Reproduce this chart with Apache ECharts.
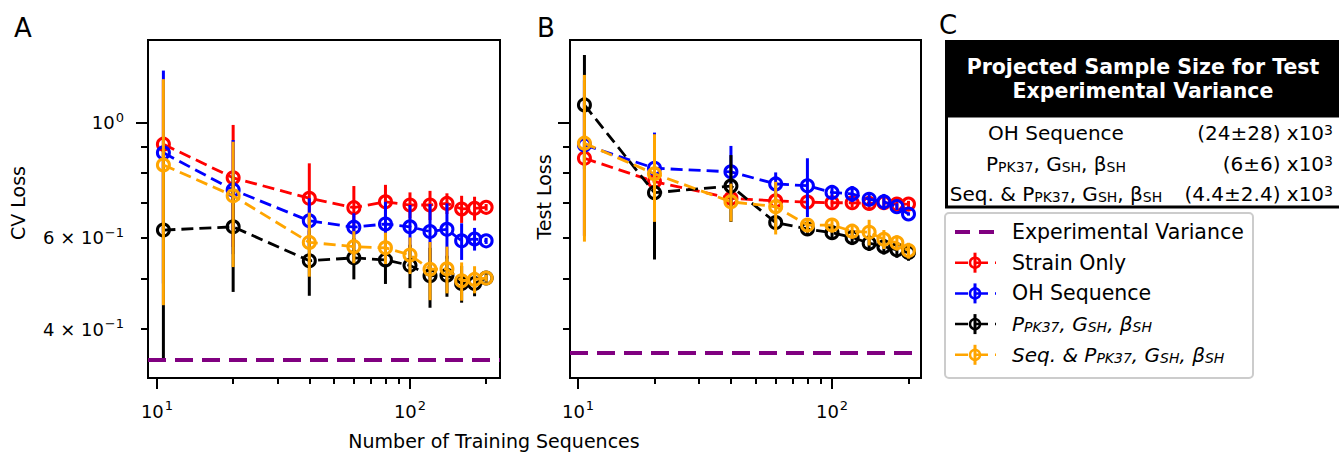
<!DOCTYPE html>
<html><head><meta charset="utf-8">
<script src="https://cdn.jsdelivr.net/npm/echarts@6/dist/echarts.min.js"></script>
<style>html,body{margin:0;padding:0;background:#fff}#c{width:1339px;height:456px}</style>
</head><body><div id="c"></div>
<script>
// ---------------- data ----------------
const xVals = [10.6, 20, 40, 60, 80, 100, 120, 140, 160, 180, 200];

// Panel A: CV loss
const strainCV       = [0.909, 0.783, 0.715, 0.686, 0.704, 0.694, 0.694, 0.699, 0.682, 0.684, 0.687];
const strainCVErr    = [0.300, 0.207, 0.120, 0.069, 0.055, 0.040, 0.045, 0.032, 0.041, 0.036, 0.010];
const ohCV           = [0.875, 0.742, 0.647, 0.629, 0.638, 0.630, 0.617, 0.623, 0.592, 0.597, 0.592];
const ohCVErr        = [0.385, 0.184, 0.068, 0.040, 0.066, 0.064, 0.080, 0.076, 0.048, 0.030, 0.008];
const physCV         = [0.621, 0.630, 0.542, 0.549, 0.544, 0.531, 0.507, 0.508, 0.490, 0.490, 0.502];
const physCVErr      = [0.273, 0.158, 0.078, 0.050, 0.055, 0.051, 0.067, 0.046, 0.040, 0.027, 0.010];
const seqPhysCV      = [0.829, 0.723, 0.588, 0.577, 0.574, 0.556, 0.522, 0.523, 0.496, 0.499, 0.502];
const seqPhysCVErr   = [0.384, 0.196, 0.083, 0.041, 0.040, 0.045, 0.067, 0.054, 0.042, 0.030, 0.008];

// Panel B: Test loss
const strainTest     = [0.854, 0.770, 0.715, 0.707, 0.703, 0.701, 0.701, 0.699, 0.701, 0.697, 0.697];
const strainTestErr  = [0.250, 0.060, 0.020, 0.020, 0.015, 0.015, 0.015, 0.015, 0.015, 0.012, 0.010];
const ohTest         = [0.906, 0.817, 0.804, 0.762, 0.756, 0.734, 0.729, 0.712, 0.704, 0.689, 0.667];
const ohTestErr      = [0.300, 0.140, 0.098, 0.040, 0.098, 0.020, 0.026, 0.020, 0.025, 0.010, 0.005];
const physTest       = [1.082, 0.733, 0.755, 0.642, 0.624, 0.614, 0.601, 0.586, 0.577, 0.569, 0.562];
const physTestErr    = [0.268, 0.188, 0.111, 0.015, 0.015, 0.015, 0.020, 0.020, 0.020, 0.020, 0.020];
const seqPhysTest    = [0.913, 0.797, 0.704, 0.689, 0.635, 0.635, 0.618, 0.615, 0.596, 0.587, 0.567];
const seqPhysTestErr = [0.323, 0.153, 0.059, 0.080, 0.020, 0.020, 0.020, 0.035, 0.025, 0.020, 0.020];

// experimental variance levels
const expVarCV = 0.351;
const expVarTest = 0.365;

// ticks
const xMajorTicks = [10, 100];
const xMinorTicks = [20, 30, 40, 50, 60, 70, 80, 90, 200];
const xTickLabels = ['10^1', '10^2'];
const yMajorTicks = [1.0];
const yMinorTicks = [0.4, 0.5, 0.6, 0.7, 0.8, 0.9];
const yLabelValues = [0.4, 0.6, 1.0];
const yTickLabels = ['4 × 10^−1', '6 × 10^−1', '10^0'];

// table C
const tableRows = ['OH Sequence', 'P_{PK37}, G_{SH}, β_{SH}', 'Seq. & P_{PK37}, G_{SH}, β_{SH}'];
const tableValues = ['(24±28) x10^3', '(6±6) x10^3', '(4.4±2.4) x10^3'];

// legend
const legendLabels = ['Experimental Variance', 'Strain Only', 'OH Sequence', 'P_{PK37}, G_{SH}, β_{SH}', 'Seq. & P_{PK37}, G_{SH}, β_{SH}'];

// ---------------- styling / build ----------------
const FONT = 'DejaVu Sans';
const colors = {strain: '#ff0000', oh: '#0000ff', phys: '#000000', seq: '#ffa500', exp: '#800080'};

function supRich(s) {
  const i = s.indexOf('^');
  if (i < 0) return '{n|' + s + '}';
  return '{n|' + s.slice(0, i) + '}{sup|' + s.slice(i + 1) + '}';
}
function subRich(s) {
  const parts = s.split(/(_\{[^}]*\})/);
  return parts.filter(p => p.length).map(p => p.startsWith('_{') ? '{s|' + p.slice(2, -1) + '}' : '{n|' + p + '}').join('');
}
function findLabel(v, vals, labels) {
  for (let i = 0; i < vals.length; i++) if (Math.abs(v - vals[i]) / vals[i] < 1e-6) return supRich(labels[i]);
  return '';
}
const tickRich = {
  n: {fontFamily: FONT, fontSize: 18, lineHeight: 24, color: '#000'},
  sup: {fontFamily: FONT, fontSize: 13, lineHeight: 14, color: '#000', verticalAlign: 'top', padding: [0, 0, 0, 1]}
};

const grids = [
  {left: 148, top: 40, width: 352, height: 338, xmin: 9.214, xmax: 226.9},
  {left: 570, top: 40, width: 351, height: 338, xmin: 9.30, xmax: 224.0}
];
const yMin = 0.3222, yMax = 1.443;

const xAxes = [], yAxes = [];
grids.forEach((g, gi) => {
  xAxes.push({
    type: 'log', gridIndex: gi, min: g.xmin, max: g.xmax, position: 'bottom',
    axisLine: {show: false, onZero: false}, splitLine: {show: false},
    axisTick: {show: true, customValues: xMinorTicks, length: 6, lineStyle: {color: '#000', width: 2}},
    axisLabel: {show: true, customValues: xMajorTicks, margin: 21, rich: tickRich,
      formatter: v => findLabel(v, xMajorTicks, xTickLabels)}
  });
  xAxes.push({
    type: 'log', gridIndex: gi, min: g.xmin, max: g.xmax, position: 'bottom',
    axisLine: {show: false, onZero: false}, splitLine: {show: false},
    axisTick: {show: true, customValues: xMajorTicks, length: 11, lineStyle: {color: '#000', width: 2}},
    axisLabel: {show: false}
  });
  yAxes.push({
    type: 'log', gridIndex: gi, min: yMin, max: yMax, position: 'left',
    axisLine: {show: false, onZero: false}, splitLine: {show: false},
    axisTick: {show: true, customValues: yMinorTicks, length: 7, lineStyle: {color: '#000', width: 2}},
    axisLabel: {show: gi === 0, customValues: yLabelValues, margin: 24, rich: tickRich,
      formatter: v => findLabel(v, yLabelValues, yTickLabels)}
  });
  yAxes.push({
    type: 'log', gridIndex: gi, min: yMin, max: yMax, position: 'left',
    axisLine: {show: false, onZero: false}, splitLine: {show: false},
    axisTick: {show: true, customValues: yMajorTicks, length: 12, lineStyle: {color: '#000', width: 2}},
    axisLabel: {show: false}
  });
});

const methods = [
  {key: 'strain', cv: strainCV, cvErr: strainCVErr, test: strainTest, testErr: strainTestErr, z: 2},
  {key: 'oh', cv: ohCV, cvErr: ohCVErr, test: ohTest, testErr: ohTestErr, z: 3},
  {key: 'phys', cv: physCV, cvErr: physCVErr, test: physTest, testErr: physTestErr, z: 4},
  {key: 'seq', cv: seqPhysCV, cvErr: seqPhysCVErr, test: seqPhysTest, testErr: seqPhysTestErr, z: 5}
];

const series = [];
function addPanel(gi, field, errField, expVal) {
  const xi = gi * 2, yi = gi * 2;
  methods.forEach(m => {
    const color = colors[m.key];
    const ys = m[field], es = m[errField];
    series.push({
      type: 'custom', xAxisIndex: xi, yAxisIndex: yi, z: m.z, silent: true, animation: false,
      data: xVals.map((x, i) => [x, ys[i], es[i]]),
      encode: {x: 0, y: 1},
      renderItem: (params, api) => {
        const x = api.value(0), y = api.value(1), e = api.value(2);
        const a = api.coord([x, y - e]), b = api.coord([x, y + e]);
        return {type: 'line', shape: {x1: a[0], y1: a[1], x2: b[0], y2: b[1]},
          style: {stroke: color, lineWidth: 3}};
      }
    });
    series.push({
      type: 'line', xAxisIndex: xi, yAxisIndex: yi, z: m.z, silent: true, animation: false,
      data: xVals.map((x, i) => [x, ys[i]]),
      symbol: 'circle', symbolSize: 12, showSymbol: true,
      lineStyle: {color: color, width: 2.8, type: [12, 6]},
      itemStyle: {color: 'rgba(255,255,255,0)', borderColor: color, borderWidth: 3},
      emphasis: {disabled: true}
    });
  });
  series.push({
    type: 'line', xAxisIndex: xi, yAxisIndex: yi, z: 6, silent: true, animation: false, data: [],
    markLine: {silent: true, symbol: ['none', 'none'], label: {show: false}, animation: false,
      lineStyle: {color: colors.exp, width: 4, type: [18, 9]},
      emphasis: {disabled: true},
      data: [{yAxis: expVal}]}
  });
}
addPanel(0, 'cv', 'cvErr', expVarCV);
addPanel(1, 'test', 'testErr', expVarTest);

// ---------------- graphics: labels, table, legend ----------------
const graphics = [];
function txt(x, y, text, opts) {
  return Object.assign({type: 'text', x: x, y: y, z: 100, silent: true,
    style: Object.assign({text: text, fontFamily: FONT, fontSize: 19, fill: '#000', align: 'center', verticalAlign: 'middle'}, opts || {})});
}
graphics.push(txt(23, 28, 'A', {fontSize: 26}));
graphics.push(txt(546, 28, 'B', {fontSize: 26}));
graphics.push(txt(948, 25, 'C', {fontSize: 26}));
graphics.push(txt(494, 441, 'Number of Training Sequences', {fontSize: 19}));
graphics.push(Object.assign(txt(18, 203, 'CV Loss', {fontSize: 19}), {rotation: Math.PI / 2}));
graphics.push(Object.assign(txt(544, 197, 'Test Loss', {fontSize: 19}), {rotation: Math.PI / 2}));

// table C
graphics.push({type: 'rect', z: 90, silent: true, shape: {x: 945, y: 40, width: 400, height: 76}, style: {fill: '#000'}});
graphics.push(txt(1143, 67, 'Projected Sample Size for Test', {fontSize: 20.5, fontWeight: 'bold', fill: '#fff'}));
graphics.push(txt(1143, 91, 'Experimental Variance', {fontSize: 20.5, fontWeight: 'bold', fill: '#fff'}));
graphics.push({type: 'rect', z: 90, silent: true, shape: {x: 946.5, y: 116, width: 400, height: 91}, style: {fill: '#fff', stroke: '#000', lineWidth: 3}});
const bodyRich = {
  n: {fontFamily: FONT, fontSize: 20, color: '#000'},
  s: {fontFamily: FONT, fontSize: 14, color: '#000', verticalAlign: 'bottom'},
  sup: {fontFamily: FONT, fontSize: 14, color: '#000', verticalAlign: 'top'}
};
tableRows.forEach((r, i) => {
  const y = 133 + i * 30.5;
  graphics.push(txt(1056, y, subRich(r), {rich: bodyRich}));
  graphics.push(txt(1333, y, supRich(tableValues[i]), {rich: bodyRich, align: 'right'}));
});

// legend
graphics.push({type: 'rect', z: 90, silent: true, shape: {x: 945, y: 213, width: 308, height: 165, r: 4},
  style: {fill: '#fff', stroke: '#cccccc', lineWidth: 2}});
const legColors = [colors.exp, colors.strain, colors.oh, colors.phys, colors.seq];
const legRich = {
  n: {fontFamily: FONT, fontSize: 20.5, color: '#000'},
  s: {fontFamily: FONT, fontSize: 14, color: '#000', verticalAlign: 'bottom'}
};
const italRich = {
  n: {fontFamily: FONT, fontSize: 20, color: '#000', fontStyle: 'italic'},
  s: {fontFamily: FONT, fontSize: 14, color: '#000', fontStyle: 'italic', verticalAlign: 'bottom'}
};
legendLabels.forEach((lab, i) => {
  const y = 232 + i * 30.7;
  const c = legColors[i];
  if (i === 0) {
    graphics.push({type: 'line', z: 95, silent: true, shape: {x1: 955, y1: y, x2: 995, y2: y},
      style: {stroke: c, lineWidth: 4, lineDash: [15, 9]}});
  } else {
    graphics.push({type: 'line', z: 95, silent: true, shape: {x1: 955, y1: y, x2: 996, y2: y},
      style: {stroke: c, lineWidth: 2.5, lineDash: [13, 7]}});
    graphics.push({type: 'line', z: 96, silent: true, shape: {x1: 975, y1: y - 10, x2: 975, y2: y + 10},
      style: {stroke: c, lineWidth: 3}});
    graphics.push({type: 'circle', z: 97, silent: true, shape: {cx: 975, cy: y, r: 5},
      style: {fill: 'none', stroke: c, lineWidth: 2.5}});
  }
  const italic = i >= 3;
  graphics.push(txt(1012, y, subRich(lab), {rich: italic ? italRich : legRich, align: 'left'}));
});

const chart = echarts.init(document.getElementById('c'), null, {renderer: 'svg'});
chart.setOption({
  animation: false,
  backgroundColor: '#fff',
  textStyle: {fontFamily: FONT},
  grid: grids.map(g => ({left: g.left, top: g.top, width: g.width, height: g.height,
    show: true, borderColor: '#000', borderWidth: 2, backgroundColor: 'transparent', containLabel: false})),
  xAxis: xAxes,
  yAxis: yAxes,
  series: series,
  graphic: graphics
});
</script>
</body></html>
